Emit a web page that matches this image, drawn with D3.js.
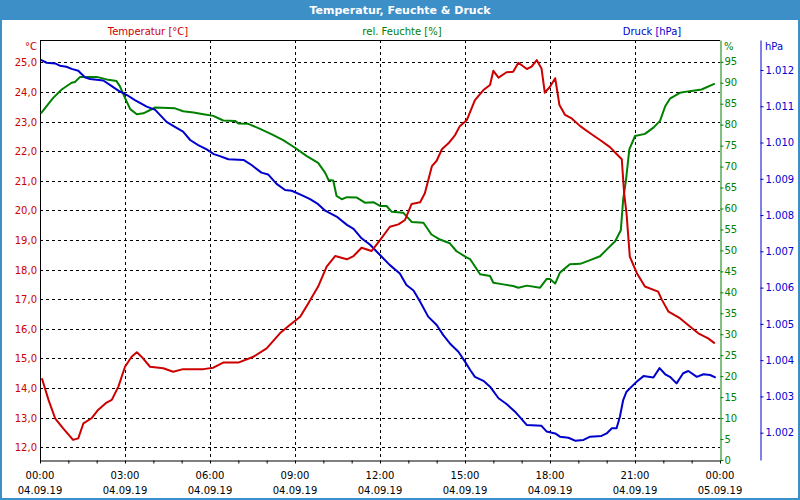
<!DOCTYPE html>
<html><head><meta charset="utf-8">
<script src="https://cdn.jsdelivr.net/npm/d3@7"></script>
<style>
html,body{margin:0;padding:0;background:#fff;}
svg{display:block;font-family:"DejaVu Sans",Verdana,sans-serif;}
</style></head>
<body>
<svg id="chart" width="800" height="500"></svg>
<script>
const title = "Temperatur, Feuchte & Druck";
const seriesNames = ["Temperatur [°C]", "rel. Feuchte [%]", "Druck [hPa]"];
const xTickTimes = ["00:00","03:00","06:00","09:00","12:00","15:00","18:00","21:00","00:00"];
const xTickDates = ["04.09.19","04.09.19","04.09.19","04.09.19","04.09.19","04.09.19","04.09.19","04.09.19","05.09.19"];
const tempTicks = [12,13,14,15,16,17,18,19,20,21,22,23,24,25];
const humTicks = [0,5,10,15,20,25,30,35,40,45,50,55,60,65,70,75,80,85,90,95];
const presTicks = [1002,1003,1004,1005,1006,1007,1008,1009,1010,1011,1012];
const presTickLabels = ["1.002","1.003","1.004","1.005","1.006","1.007","1.008","1.009","1.010","1.011","1.012"];

const tempTimes = ["00:04","00:18","00:32","00:49","01:10","01:21","01:32","01:49","02:03","02:21","02:32","02:46","03:00","03:14","03:25","03:35","03:53","04:21","04:42","05:03","05:46","06:07","06:28","07:00","07:32","08:00","08:28","08:49","09:11","09:28","09:49","10:07","10:25","10:50","11:04","11:21","11:42","12:00","12:21","12:39","12:53","13:07","13:25","13:35","13:50","14:00","14:11","14:25","14:39","14:49","15:04","15:21","15:39","15:53","16:00","16:11","16:28","16:42","16:53","17:11","17:21","17:32","17:42","17:49","18:00","18:11","18:20","18:32","18:46","19:04","19:25","19:46","20:07","20:21","20:32","20:37","20:42","20:49","21:04","21:21","21:49","21:57","22:11","22:35","22:57","23:14","23:35","23:49"];
const tempValues = [14.33,13.60,12.98,12.64,12.25,12.30,12.81,12.98,13.26,13.51,13.60,14.05,14.72,15.06,15.21,15.06,14.72,14.67,14.55,14.64,14.64,14.69,14.86,14.86,15.06,15.34,15.85,16.13,16.41,16.86,17.43,18.10,18.46,18.35,18.46,18.74,18.63,19.00,19.45,19.53,19.68,20.22,20.28,20.58,21.50,21.68,22.07,22.27,22.55,22.85,23.06,23.73,24.07,24.24,24.72,24.49,24.67,24.69,24.99,24.78,24.86,25.08,24.80,23.98,24.18,24.47,23.56,23.23,23.11,22.85,22.61,22.38,22.14,21.91,21.73,20.58,19.91,18.44,17.88,17.43,17.26,16.98,16.58,16.36,16.07,15.85,15.68,15.51];

const humTimes = ["00:02","00:14","00:28","00:46","01:07","01:14","01:25","02:00","02:21","02:42","02:49","03:00","03:11","03:25","03:39","04:04","04:46","05:03","05:25","05:46","06:07","06:28","06:53","07:00","07:21","07:46","08:11","08:35","09:00","09:25","09:49","10:04","10:11","10:21","10:28","10:39","10:50","11:11","11:28","11:46","12:00","12:14","12:25","12:49","13:07","13:32","13:49","14:07","14:28","14:42","15:04","15:11","15:32","15:53","16:00","16:21","16:42","16:53","17:11","17:39","17:53","18:00","18:11","18:21","18:42","19:04","19:25","19:46","20:00","20:18","20:30","20:35","20:41","20:48","21:00","21:21","21:39","21:53","22:04","22:14","22:35","22:56","23:21","23:49"];
const humValues = [82.7,84.4,86.4,88.4,90.0,90.2,91.4,91.4,90.8,90.4,89.2,86.4,83.7,82.5,82.7,84.1,83.9,83.2,82.9,82.5,82.1,81.0,80.9,80.3,80.2,79.0,77.7,76.3,74.5,72.5,70.9,68.5,66.8,66.7,63.0,62.2,62.7,62.6,61.4,61.5,60.6,60.6,59.2,59.0,56.8,56.6,53.8,52.6,51.7,49.8,48.3,47.9,44.3,43.9,42.3,41.9,41.5,41.1,41.6,41.1,43.2,43.2,42.1,44.7,46.7,46.8,47.7,48.6,50.2,52.2,54.8,62.2,66.9,74.1,77.3,77.8,79.3,80.9,84.4,86.2,87.6,88.0,88.4,89.8];

const presTimes = ["00:02","00:14","00:32","00:42","00:56","01:07","01:21","01:35","01:46","02:14","02:28","02:46","03:04","03:21","03:46","04:04","04:28","04:42","05:03","05:18","05:35","05:53","06:08","06:18","06:39","07:11","07:28","07:49","08:03","08:21","08:39","08:53","09:14","09:32","09:49","10:04","10:28","10:50","11:04","11:21","11:39","12:00","12:21","12:42","12:56","13:11","13:25","13:42","14:00","14:14","14:28","14:46","15:00","15:11","15:21","15:39","15:53","16:11","16:28","16:46","17:11","17:42","17:53","18:11","18:21","18:39","18:53","19:11","19:25","19:49","20:00","20:11","20:21","20:28","20:35","20:42","20:53","21:04","21:18","21:39","21:52","22:04","22:14","22:28","22:42","22:53","23:11","23:25","23:39","23:51"];
const presValues = [1012.28,1012.20,1012.18,1012.12,1012.09,1012.03,1011.98,1011.80,1011.75,1011.71,1011.59,1011.43,1011.31,1011.17,1010.99,1010.90,1010.57,1010.46,1010.30,1010.07,1009.93,1009.81,1009.68,1009.64,1009.54,1009.52,1009.38,1009.17,1009.12,1008.86,1008.69,1008.67,1008.55,1008.44,1008.30,1008.12,1007.96,1007.73,1007.62,1007.36,1007.18,1006.90,1006.62,1006.39,1006.07,1005.92,1005.61,1005.20,1004.97,1004.69,1004.46,1004.23,1003.96,1003.73,1003.54,1003.43,1003.27,1002.95,1002.79,1002.58,1002.21,1002.19,1002.03,1001.98,1001.89,1001.86,1001.78,1001.80,1001.89,1001.91,1001.98,1002.12,1002.12,1002.44,1002.90,1003.13,1003.27,1003.41,1003.56,1003.52,1003.78,1003.61,1003.54,1003.36,1003.64,1003.70,1003.54,1003.61,1003.59,1003.52];

const RED = "#cc0000", GREEN = "#008000", BLUE = "#0000cc", FRAME = "#3d8fc7";
const svg = d3.select("#chart");
const W = 800, H = 500;
const L = 40, R = 720, T = 40, B = 460;

const parseT = s => { const [h,m] = s.split(":").map(Number); return new Date(2019, 8, 4, h, m); };
const x = d3.scaleTime().domain([new Date(2019,8,4,0,0), new Date(2019,8,5,0,0)]).range([L, R]);
const yT = d3.scaleLinear().domain([11.57, 25.76]).range([B, T]);
const yH = d3.scaleLinear().domain([0, 100.2]).range([B, T]);
const yP = d3.scaleLinear().domain([1001.247, 1012.827]).range([B, T]);

// frame & title
svg.append("rect").attr("x",0).attr("y",0).attr("width",W).attr("height",H).attr("fill","#fff");
svg.append("rect").attr("x",0).attr("y",0).attr("width",W).attr("height",20).attr("fill",FRAME);
svg.append("rect").attr("x",1).attr("y",1).attr("width",W-2).attr("height",H-2).attr("fill","none").attr("stroke",FRAME).attr("stroke-width",2);
svg.append("text").attr("x",W/2).attr("y",14).attr("text-anchor","middle").attr("fill","#fff")
  .attr("font-weight","bold").attr("font-size","11px").text(title);

// legend labels
const legendX = [148, 402, 652];
const legendC = [RED, GREEN, BLUE];
seriesNames.forEach((n,i) => {
  svg.append("text").attr("x",legendX[i]).attr("y",35).attr("text-anchor","middle")
    .attr("fill",legendC[i]).attr("font-size","10px").text(n);
});

// grid
const grid = svg.append("g").attr("stroke","#000").attr("stroke-width",1).attr("stroke-dasharray","3,3").attr("shape-rendering","crispEdges");
tempTicks.forEach(t => {
  grid.append("line").attr("x1",L).attr("x2",R).attr("y1",Math.round(yT(t))+0.5).attr("y2",Math.round(yT(t))+0.5);
});
const xTicks = d3.range(0, 25, 1).map(h => new Date(2019,8,4,h,0));
xTicks.filter((d,i) => i % 3 === 0 && i > 0 && i < 24).forEach(d => {
  grid.append("line").attr("x1",Math.round(x(d))+0.5).attr("x2",Math.round(x(d))+0.5).attr("y1",T).attr("y2",B);
});

// plot frame lines
svg.append("line").attr("x1",L).attr("x2",R).attr("y1",T+0.5).attr("y2",T+0.5).attr("stroke","#000");
svg.append("line").attr("x1",L+0.5).attr("x2",L+0.5).attr("y1",T).attr("y2",B+1).attr("stroke","#000");

// x axis
const xAxis = svg.append("g").attr("transform",`translate(0,${B+0.5})`)
  .call(d3.axisBottom(x).tickValues(xTicks).tickSize(3).tickSizeOuter(0).tickFormat(""));
xAxis.select(".domain").attr("stroke","#000");
xAxis.selectAll(".tick line").attr("stroke","#000");
const majorX = xTicks.filter((d,i) => i % 3 === 0);
majorX.forEach((d,i) => {
  svg.append("text").attr("x",x(d)).attr("y",479).attr("text-anchor","middle").attr("font-size","10px").attr("fill","#000").text(xTickTimes[i]);
  svg.append("text").attr("x",x(d)).attr("y",494).attr("text-anchor","middle").attr("font-size","10px").attr("fill","#000").text(xTickDates[i]);
});

// left temp axis labels
tempTicks.forEach(t => {
  svg.append("text").attr("x",37).attr("y",yT(t)+4).attr("text-anchor","end").attr("font-size","10px").attr("fill",RED)
    .text(t.toFixed(1).replace(".", ","));
});
svg.append("text").attr("x",37).attr("y",50).attr("text-anchor","end").attr("font-size","10px").attr("fill",RED).text("°C");

// humidity axis (right, green)
const hAxis = svg.append("g").attr("transform",`translate(${R+0.5},0)`)
  .call(d3.axisRight(yH).tickValues(humTicks).tickSize(3).tickSizeOuter(0).tickPadding(1));
hAxis.select(".domain").attr("stroke",GREEN);
hAxis.selectAll(".tick line").attr("stroke",GREEN);
hAxis.selectAll(".tick text").attr("fill",GREEN).attr("font-size","10px").attr("font-family","DejaVu Sans");
svg.append("text").attr("x",724).attr("y",50).attr("font-size","10px").attr("fill",GREEN).text("%");

// pressure axis
const pAxis = svg.append("g").attr("transform",`translate(760.5,0)`)
  .call(d3.axisRight(yP).tickValues(presTicks).tickSize(3).tickSizeOuter(0).tickPadding(2)
    .tickFormat((d,i) => presTickLabels[i]));
pAxis.select(".domain").attr("stroke",BLUE);
pAxis.selectAll(".tick line").attr("stroke",BLUE);
pAxis.selectAll(".tick text").attr("fill",BLUE).attr("font-size","10px").attr("font-family","DejaVu Sans");
svg.append("text").attr("x",765).attr("y",50).attr("font-size","10px").attr("fill",BLUE).text("hPa");

// series lines
function drawLine(times, values, yScale, color) {
  const data = times.map((t,i) => ({t: parseT(t), v: values[i]}));
  svg.append("path").datum(data)
    .attr("fill","none").attr("stroke",color).attr("stroke-width",2).attr("stroke-linejoin","round")
    .attr("d", d3.line().x(d => x(d.t)).y(d => yScale(d.v)));
}
drawLine(humTimes, humValues, yH, GREEN);
drawLine(presTimes, presValues, yP, BLUE);
drawLine(tempTimes, tempValues, yT, RED);
</script>
</body></html>
